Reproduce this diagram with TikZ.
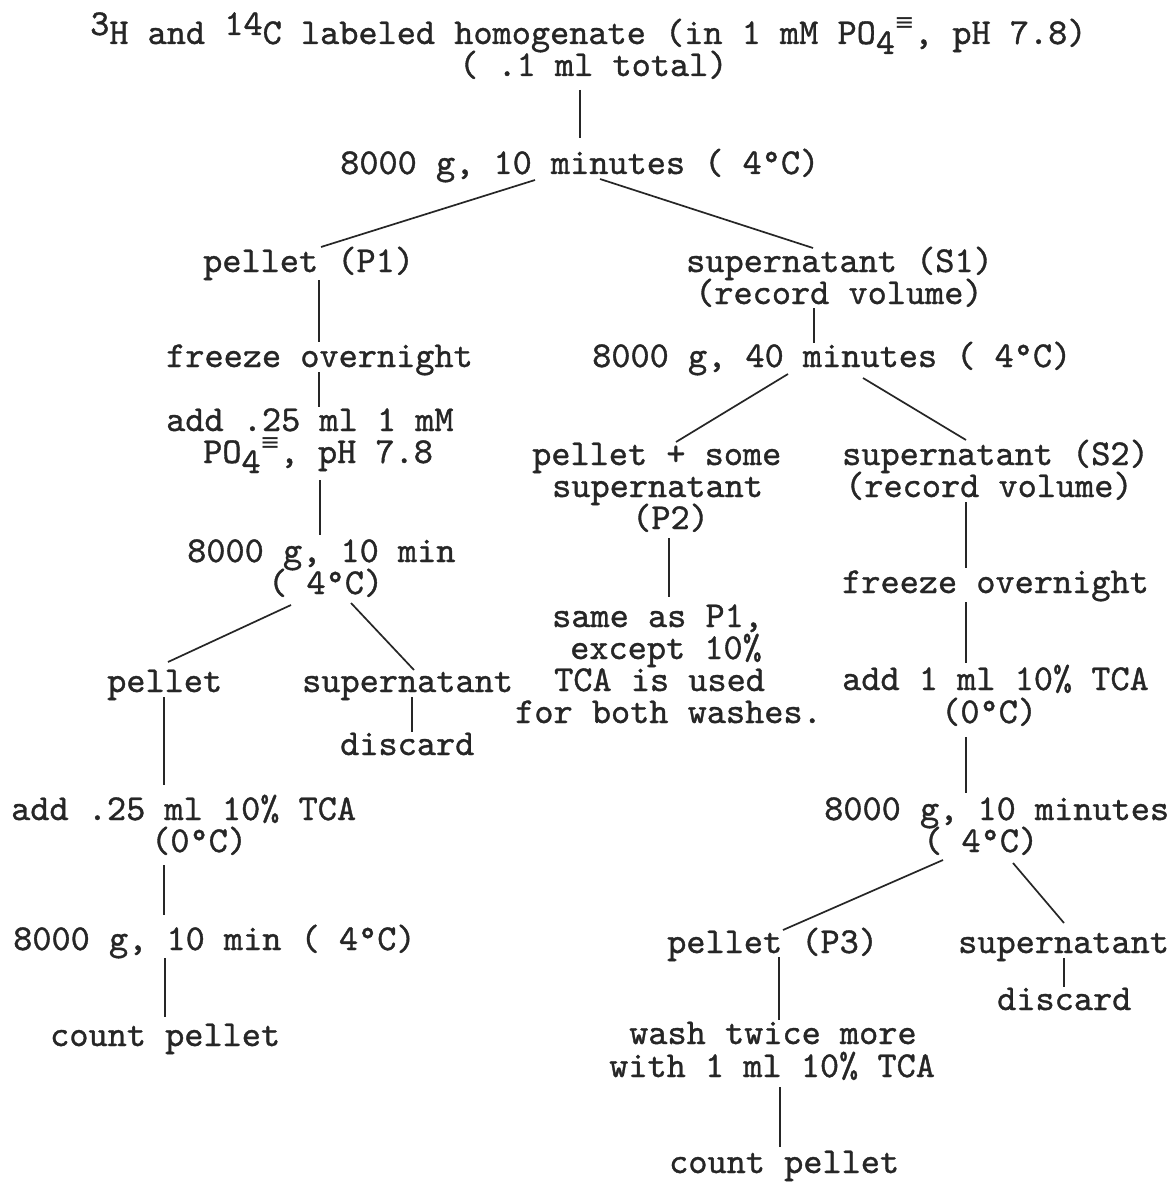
\documentclass[tikz,border=0pt]{standalone}
\usepackage{fontspec}
\usetikzlibrary{calc}
\newfontfamily\tw[FakeBold=1]{lmmono10-regular.otf}
\newfontfamily\dv{DejaVu Sans}
\newcommand\tup[1]{\raisebox{9pt}{#1}}
\newcommand\tdn[1]{\raisebox{-10pt}{#1}}
\newcommand\teqv{\makebox[19pt]{\raisebox{13pt}{\dv\fontsize{24}{24}\selectfont ≡}}}
\definecolor{ink}{HTML}{262626}
\begin{document}
\begin{tikzpicture}[x=1pt,y=1pt,
  lbl/.style={anchor=base west, inner sep=0pt, font={\fontsize{36.5}{40}\selectfont\tw}, text=ink},
  conn/.style={draw=ink, line width=1.7pt}]
\useasboundingbox[fill=white] (0,0) rectangle (1170,-1182);

% top
\node[lbl] (t1) at (90,-44) {\tup{3}H and \tup{14}C labeled homogenate (in 1 mM PO\tdn{4}\teqv, pH 7.8)};
\node[lbl] (t2) at (459,-76) {( .1 ml total)};
\node[lbl] (c1) at (340,-174) {8000 g, 10 minutes ( 4°C)};

% left branch
\node[lbl] (p1) at (203,-272) {pellet (P1)};
\node[lbl] (fz1) at (166,-367) {freeze overnight};
\node[lbl] (ad1a) at (166,-431) {add .25 ml 1 mM};
\node[lbl] (ad1b) at (203,-463) {PO\tdn{4}\teqv, pH 7.8};
\node[lbl] (c2a) at (187,-562) {8000 g, 10 min};
\node[lbl] (c2b) at (268,-594) {( 4°C)};
\node[lbl] (pl2) at (107,-692) {pellet};
\node[lbl] (sp2) at (302,-692) {supernatant};
\node[lbl] (dc1) at (340,-755) {discard};
\node[lbl] (ad2a) at (11,-820) {add .25 ml 10\% TCA};
\node[lbl] (ad2b) at (151,-852) {(0°C)};
\node[lbl] (c3) at (13,-950) {8000 g, 10 min ( 4°C)};
\node[lbl] (cp1) at (50,-1046) {count pellet};

% right branch
\node[lbl] (s1a) at (686,-272) {supernatant (S1)};
\node[lbl] (s1b) at (695,-304) {(record volume)};
\node[lbl] (c4) at (592,-367) {8000 g, 40 minutes ( 4°C)};
\node[lbl] (p2a) at (532,-465) {pellet + some};
\node[lbl] (p2b) at (552,-497) {supernatant};
\node[lbl] (p2c) at (632,-529) {(P2)};
\node[lbl] (sa1) at (552,-627) {same as P1,};
\node[lbl] (sa2) at (570,-659) {except 10\%};
\node[lbl] (sa3) at (554,-691) {TCA is used};
\node[lbl] (sa4) at (515,-723) {for both washes.};
\node[lbl] (s2a) at (842,-465) {supernatant (S2)};
\node[lbl] (s2b) at (845,-497) {(record volume)};
\node[lbl] (fz2) at (842,-593) {freeze overnight};
\node[lbl] (ad3a) at (842,-690) {add 1 ml 10\% TCA};
\node[lbl] (ad3b) at (941,-723) {(0°C)};
\node[lbl] (c5a) at (824,-820) {8000 g, 10 minutes};
\node[lbl] (c5b) at (923,-852) {( 4°C)};
\node[lbl] (p3) at (667,-953) {pellet (P3)};
\node[lbl] (sp3) at (958,-953) {supernatant};
\node[lbl] (dc2) at (997,-1010) {discard};
\node[lbl] (w1) at (629,-1044) {wash twice more};
\node[lbl] (w2) at (609,-1077) {with 1 ml 10\% TCA};
\node[lbl] (cp2) at (669,-1173) {count pellet};

% connectors
\draw[conn] ($(t2.base west)+(121,-14)$) -- ($(c1.base west)+(240,36)$);
\draw[conn] ($(c1.base west)+(195,-6)$) -- ($(p1.base west)+(118,25)$);
\draw[conn] ($(c1.base west)+(260,-5)$) -- ($(s1a.base west)+(127,24)$);
\draw[conn] ($(p1.base west)+(116,-8)$) -- ($(fz1.base west)+(153,25)$);
\draw[conn] ($(fz1.base west)+(153,-5)$) -- ($(ad1a.base west)+(153,24)$);
\draw[conn] ($(ad1b.base west)+(117,-17)$) -- ($(c2a.base west)+(133,27)$);
\draw[conn] ($(c2b.base west)+(23,-11)$) -- ($(pl2.base west)+(61,30)$);
\draw[conn] ($(c2b.base west)+(83,-9)$) -- ($(sp2.base west)+(112,22)$);
\draw[conn] ($(sp2.base west)+(110,-5)$) -- ($(dc1.base west)+(72,23)$);
\draw[conn] ($(pl2.base west)+(57,-5)$) -- ($(ad2a.base west)+(153,35)$);
\draw[conn] ($(ad2b.base west)+(13,-13)$) -- ($(c3.base west)+(151,35)$);
\draw[conn] ($(c3.base west)+(152,-8)$) -- ($(cp1.base west)+(115,29)$);
\draw[conn] ($(s1b.base west)+(119,-4)$) -- ($(c4.base west)+(222,24)$);
\draw[conn] ($(c4.base west)+(196,-7)$) -- ($(p2a.base west)+(144,23)$);
\draw[conn] ($(c4.base west)+(271,-11)$) -- ($(s2a.base west)+(124,25)$);
\draw[conn] ($(p2c.base west)+(37,-9)$) -- ($(sa1.base west)+(117,30)$);
\draw[conn] ($(s2b.base west)+(121,-5)$) -- ($(fz2.base west)+(124,25)$);
\draw[conn] ($(fz2.base west)+(124,-9)$) -- ($(ad3a.base west)+(124,27)$);
\draw[conn] ($(ad3b.base west)+(25,-14)$) -- ($(c5a.base west)+(142,27)$);
\draw[conn] ($(c5b.base west)+(20,-8)$) -- ($(p3.base west)+(116,23)$);
\draw[conn] ($(c5b.base west)+(90,-11)$) -- ($(sp3.base west)+(106,30)$);
\draw[conn] ($(sp3.base west)+(106,-5)$) -- ($(dc2.base west)+(67,23)$);
\draw[conn] ($(p3.base west)+(112,-4)$) -- ($(w1.base west)+(150,24)$);
\draw[conn] ($(w2.base west)+(171,-10)$) -- ($(cp2.base west)+(111,26)$);
\end{tikzpicture}
\end{document}
